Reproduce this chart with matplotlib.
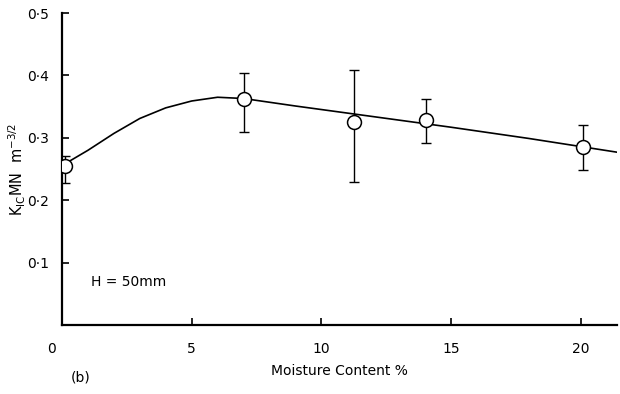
import matplotlib
matplotlib.use('Agg')
from matplotlib import pyplot as plt
from matplotlib.transforms import ScaledTranslation

# measured points with error bars
moisture = [0.1, 7.0, 11.25, 14.05, 20.1]
kic = [0.255, 0.362, 0.326, 0.328, 0.285]
err_low = [0.027, 0.052, 0.096, 0.037, 0.036]
err_high = [0.016, 0.042, 0.083, 0.034, 0.035]

# fitted curve
curve_x = [0.1, 1.0, 2.0, 3.0, 4.0, 5.0, 6.0, 7.0, 9.0, 12.0, 15.0, 18.0, 21.4]
curve_y = [0.258, 0.280, 0.307, 0.331, 0.348, 0.359, 0.365, 0.363, 0.351, 0.334, 0.317, 0.299, 0.277]

x_ticks = [0, 5, 10, 15, 20]
y_ticks = [0.1, 0.2, 0.3, 0.4, 0.5]
y_tick_labels = ['0\u00b71', '0\u00b72', '0\u00b73', '0\u00b74', '0\u00b75']

fig = plt.figure(figsize=(6.2, 3.94), dpi=100)
ax = fig.add_axes([0.1, 0.175, 0.895, 0.792])

# curve
ax.plot(curve_x, curve_y, color='black', linewidth=1.2, zorder=2)

# error bars and open circles
ax.errorbar(moisture, kic, yerr=[err_low, err_high], fmt='none', ecolor='black',
            elinewidth=1.0, capsize=3.5, capthick=1.0, zorder=1)
ax.plot(moisture, kic, linestyle='none', marker='o', markersize=10,
        markerfacecolor='white', markeredgecolor='black', markeredgewidth=1.1, zorder=3)

ax.set_xlim(0, 21.4)
ax.set_ylim(0, 0.5)
ax.set_xticks(x_ticks)
ax.set_xticklabels([str(t) for t in x_ticks])
ax.set_yticks(y_ticks)
ax.set_yticklabels(y_tick_labels)
ax.tick_params(direction='in', length=5, width=1.2, labelsize=10)
ax.tick_params(axis='x', pad=12)
ax.tick_params(axis='y', pad=9)

# the "0" sits left of the corner in the original
first = ax.get_xticklabels()[0]
first.set_transform(first.get_transform() + ScaledTranslation(-10 / 100, 0, fig.dpi_scale_trans))

for side in ['top', 'right']:
    ax.spines[side].set_visible(False)
for side in ['left', 'bottom']:
    ax.spines[side].set_linewidth(1.6)

ax.set_xlabel('Moisture Content %', fontsize=10, labelpad=6)
ax.set_ylabel(r'K$_{\mathrm{IC}}$MN  m$^{-3/2}$', fontsize=10.5)
ax.yaxis.set_label_coords(-0.062, 0.5)

ax.text(1.1, 0.069, 'H = 50mm', fontsize=10, va='center')
fig.text(0.13, 0.043, '(b)', fontsize=10, va='center', ha='center')

fig.savefig('out.png', dpi=100)
